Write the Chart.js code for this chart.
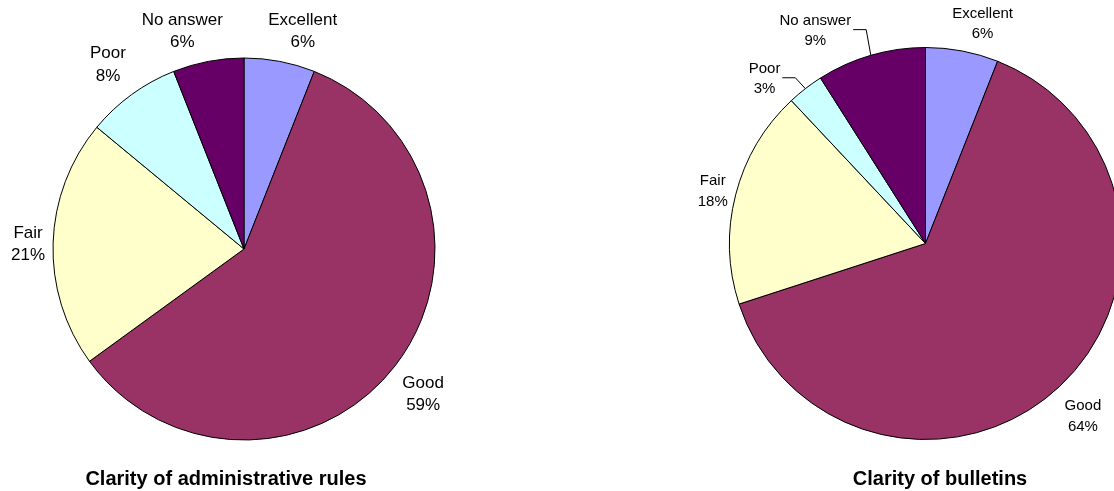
<!DOCTYPE html>
<html><head><meta charset="utf-8">
<script src="https://cdn.jsdelivr.net/npm/chart.js@4.4.0/dist/chart.umd.min.js"></script>
<style>
html,body{margin:0;padding:0;background:#fff;overflow:hidden;width:1114px;height:491px;}
canvas{position:absolute;left:0;top:0;}
</style></head><body>
<canvas id="c1" width="1114" height="491"></canvas>
<canvas id="c2" width="1114" height="491"></canvas>
<script>
// ---- data ----
const categories = ['Excellent', 'Good', 'Fair', 'Poor', 'No answer'];
const rulesValues = [6, 59, 21, 8, 6];
const bulletinsValues = [6, 64, 18, 3, 9];
const rulesTitle = 'Clarity of administrative rules';
const bulletinsTitle = 'Clarity of bulletins';

// ---- style ----
const sliceColors = ['#9999FF', '#993366', '#FFFFCC', '#CCFFFF', '#660066'];
const FONT = '"Liberation Sans", Arial, Helvetica, sans-serif';

const labelPlugin = {
  id: 'pieLabels',
  afterDatasetsDraw(chart, args, opts) {
    const ctx = chart.ctx;
    const meta = chart.getDatasetMeta(0);
    const labels = chart.data.labels;
    const vals = chart.data.datasets[0].data;
    ctx.save();
    ctx.font = opts.fontSize + 'px ' + FONT;
    ctx.fillStyle = '#000';
    ctx.textAlign = 'center';
    ctx.textBaseline = 'alphabetic';
    const cap = opts.fontSize * 0.716;
    meta.data.forEach((arc, i) => {
      const p = arc.getProps(['x', 'y', 'startAngle', 'endAngle', 'outerRadius'], true);
      const mid = (p.startAngle + p.endAngle) / 2;
      const dist = p.outerRadius + opts.distance;
      const nud = opts.nudge[labels[i]] || [0, 0];
      const cx = p.x + Math.cos(mid) * dist + nud[0];
      const cy = p.y + Math.sin(mid) * dist + nud[1];
      const lines = [labels[i], vals[i] + '%'];
      ctx.fillText(lines[0], cx, cy - opts.lineGap / 2 + cap / 2);
      ctx.fillText(lines[1], cx, cy + opts.lineGap / 2 + cap / 2);
      if (opts.leaders.includes(labels[i])) {
        const w = Math.max(ctx.measureText(lines[0]).width, ctx.measureText(lines[1]).width);
        const x0 = cx + w / 2 + 2;
        const x1 = x0 + 13;
        const ax = p.x + Math.cos(mid) * p.outerRadius;
        const ay = p.y + Math.sin(mid) * p.outerRadius;
        ctx.beginPath();
        ctx.moveTo(x0, cy); ctx.lineTo(x1, cy); ctx.lineTo(ax, ay);
        ctx.strokeStyle = '#000'; ctx.lineWidth = 1; ctx.stroke();
      }
    });
    ctx.font = 'bold 20px ' + FONT;
    ctx.fillText(opts.title, opts.titleX, opts.titleY);
    ctx.restore();
  }
};

function makePie(id, values, radius, padding, labelOpts) {
  return new Chart(document.getElementById(id), {
    type: 'pie',
    data: {
      labels: categories,
      datasets: [{
        data: values,
        backgroundColor: sliceColors,
        borderColor: '#000000',
        borderWidth: 1,
        radius: radius,
        hoverOffset: 0,
        clip: false
      }]
    },
    options: {
      responsive: false,
      maintainAspectRatio: false,
      devicePixelRatio: 1,
      animation: false,
      layout: { padding: padding },
      plugins: {
        legend: { display: false },
        tooltip: { enabled: false },
        pieLabels: labelOpts
      }
    },
    plugins: [labelPlugin]
  });
}

makePie('c1', rulesValues, 191, { left: 0, right: 626, top: 7, bottom: 0 }, {
  fontSize: 17, lineGap: 22.5, distance: 37,
  nudge: { 'Excellent': [16, 5], 'No answer': [-19, 5], 'Poor': [-2, -1], 'Fair': [12, 1], 'Good': [-1, 4] },
  leaders: [],
  title: rulesTitle, titleX: 226, titleY: 485
});

makePie('c2', bulletinsValues, 196, { left: 737, right: 0, top: 0, bottom: 4 }, {
  fontSize: 15, lineGap: 20.5, distance: 34,
  nudge: { 'Excellent': [14, 5], 'No answer': [-46, 7], 'Poor': [-20, 16], 'Fair': [10, 4], 'Good': [0, 4] },
  leaders: ['No answer', 'Poor'],
  title: bulletinsTitle, titleX: 940, titleY: 485
});
</script>
</body></html>
